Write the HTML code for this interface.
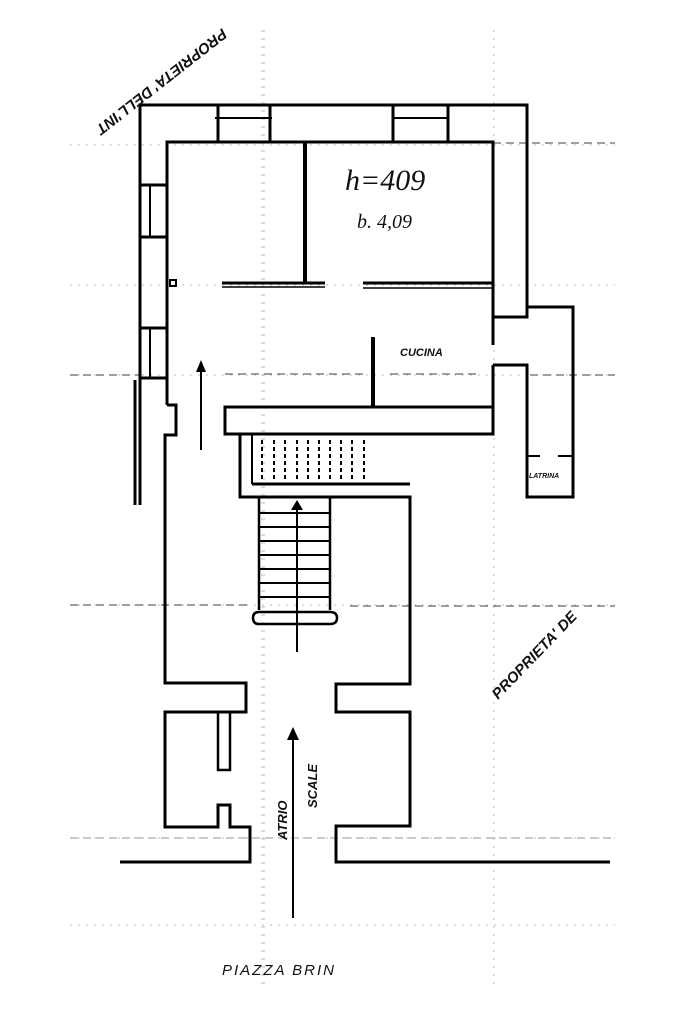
<!DOCTYPE html>
<html><head><meta charset="utf-8"><style>
html,body{margin:0;padding:0;background:#fff;width:683px;height:1025px;overflow:hidden}
svg{display:block}
text{font-family:"Liberation Sans",sans-serif;font-weight:bold;fill:#111}
</style></head><body>
<svg width="683" height="1025" viewBox="0 0 683 1025" xmlns="http://www.w3.org/2000/svg">
<g stroke="#bbb" stroke-width="1" stroke-dasharray="2,6" fill="none">
<line x1="70" y1="145" x2="615" y2="145"/><line x1="70" y1="375" x2="615" y2="375"/>
<line x1="70" y1="605" x2="615" y2="605"/><line x1="70" y1="838" x2="615" y2="838"/>
<line x1="70" y1="285" x2="615" y2="285"/><line x1="70" y1="925" x2="615" y2="925"/>
<line x1="264" y1="30" x2="264" y2="990"/><line x1="494" y1="30" x2="494" y2="990"/>
<line x1="262" y1="30" x2="262" y2="990"/>
</g>
<g stroke="#666" stroke-width="1.2" stroke-dasharray="8,5">
<line x1="70" y1="605" x2="250" y2="605"/><line x1="350" y1="606" x2="615" y2="606"/>
<line x1="70" y1="375" x2="140" y2="375"/><line x1="225" y1="374" x2="363" y2="374"/><line x1="390" y1="374" x2="480" y2="374"/><line x1="530" y1="375" x2="615" y2="375"/>
<line x1="70" y1="838" x2="615" y2="838" stroke="#aaa"/>
<line x1="493" y1="143" x2="615" y2="143"/>
</g>
<g stroke="#000" stroke-width="3" fill="none" stroke-linejoin="miter">
<polyline points="140,505 140,105 527,105 527,317 493,317 493,142 167,142 167,405"/>
<line x1="135" y1="380" x2="135" y2="505"/>
<line x1="218" y1="105" x2="218" y2="142"/><line x1="270" y1="105" x2="270" y2="142"/><line x1="215" y1="118" x2="272" y2="118" stroke-width="2"/>
<line x1="393" y1="105" x2="393" y2="142"/><line x1="448" y1="105" x2="448" y2="142"/><line x1="392" y1="118" x2="448" y2="118" stroke-width="2"/>
<line x1="140" y1="185" x2="167" y2="185"/><line x1="140" y1="237" x2="167" y2="237"/><line x1="150" y1="185" x2="150" y2="237" stroke-width="2"/>
<line x1="140" y1="328" x2="167" y2="328"/><line x1="140" y1="378" x2="167" y2="378"/><line x1="150" y1="328" x2="150" y2="378" stroke-width="2"/>
<line x1="305" y1="142" x2="305" y2="282" stroke-width="4"/>
<line x1="222" y1="283" x2="325" y2="283"/><line x1="222" y1="287" x2="325" y2="287" stroke-width="1.5"/>
<line x1="363" y1="283" x2="493" y2="283"/><line x1="363" y1="288" x2="493" y2="288" stroke-width="1.5"/>
<line x1="373" y1="337" x2="373" y2="406" stroke-width="4"/>
<rect x="170" y="280" width="6" height="6" stroke-width="2"/>
<polyline points="493,317 493,345"/>
<polyline points="493,365 527,365 527,497 573,497 573,307 527,307"/>
<polyline points="493,365 493,407"/>
<line x1="527" y1="456" x2="540" y2="456" stroke-width="2"/><line x1="558" y1="456" x2="573" y2="456" stroke-width="2"/>
<rect x="225" y="407" width="268" height="27"/>
<polyline points="167,405 176,405 176,435 165,435 165,683 246,683 246,712 165,712 165,827 218,827 218,805 230,805 230,827 250,827 250,862 120,862"/>
<rect x="218" y="712" width="12" height="58" stroke-width="2.5"/>
<polyline points="240,434 240,497 410,497 410,684 336,684 336,712 410,712 410,826 336,826 336,862 610,862"/>
<line x1="252" y1="484" x2="410" y2="484"/><line x1="252" y1="434" x2="252" y2="484" stroke-width="2"/>
<line x1="259" y1="497" x2="259" y2="610" stroke-width="2.5"/><line x1="330" y1="497" x2="330" y2="610" stroke-width="2.5"/>
<path d="M259,612 L330,612 Q337,612 337,618 Q337,624 330,624 L259,624 Q253,624 253,618 Q253,612 259,612Z" stroke-width="2.5"/>
</g>
<g stroke="#000" stroke-width="2" stroke-dasharray="4,3">
<line x1="262" y1="440" x2="262" y2="480"/><line x1="274" y1="440" x2="274" y2="480"/><line x1="285" y1="440" x2="285" y2="480"/><line x1="297" y1="440" x2="297" y2="480"/><line x1="308" y1="440" x2="308" y2="480"/><line x1="319" y1="440" x2="319" y2="480"/><line x1="330" y1="440" x2="330" y2="480"/><line x1="341" y1="440" x2="341" y2="480"/><line x1="352" y1="440" x2="352" y2="480"/><line x1="364" y1="440" x2="364" y2="480"/>
</g>
<g stroke="#000" stroke-width="2">
<line x1="259" y1="513" x2="330" y2="513"/><line x1="259" y1="527" x2="330" y2="527"/><line x1="259" y1="541" x2="330" y2="541"/><line x1="259" y1="555" x2="330" y2="555"/><line x1="259" y1="569" x2="330" y2="569"/><line x1="259" y1="583" x2="330" y2="583"/><line x1="259" y1="597" x2="330" y2="597"/>
<line x1="297" y1="652" x2="297" y2="505"/>
<line x1="293" y1="918" x2="293" y2="735"/>
<line x1="201" y1="450" x2="201" y2="368"/>
</g>
<g fill="#000">
<polygon points="297,500 291,510 303,510"/>
<polygon points="293,727 287,740 299,740"/>
<polygon points="201,360 196,372 206,372"/>
</g>
<text x="345" y="190" font-size="30" style="font-family:'Liberation Serif',serif;font-weight:normal;font-style:italic">h=409</text>
<text x="357" y="228" font-size="20" style="font-family:'Liberation Serif',serif;font-weight:normal;font-style:italic">b. 4,09</text>
<text x="400" y="356" font-size="11" font-style="italic">CUCINA</text>
<text x="529" y="478" font-size="7" font-style="italic">LATRINA</text>
<text x="287" y="840" font-size="13" font-style="italic" transform="rotate(-90 287 840)">ATRIO</text>
<text x="317" y="808" font-size="13" font-style="italic" transform="rotate(-90 317 808)">SCALE</text>
<text x="222" y="975" font-size="15" style="font-weight:normal;font-style:italic" letter-spacing="2">PIAZZA  BRIN</text>
<text x="498" y="700" font-size="15" font-style="italic" transform="rotate(-46 498 700)">PROPRIETA' DE</text>
<text x="222" y="28" font-size="15" font-style="italic" transform="rotate(142 222 28)">PROPRIETA' DELL'INT</text>
</svg>
</body></html>
